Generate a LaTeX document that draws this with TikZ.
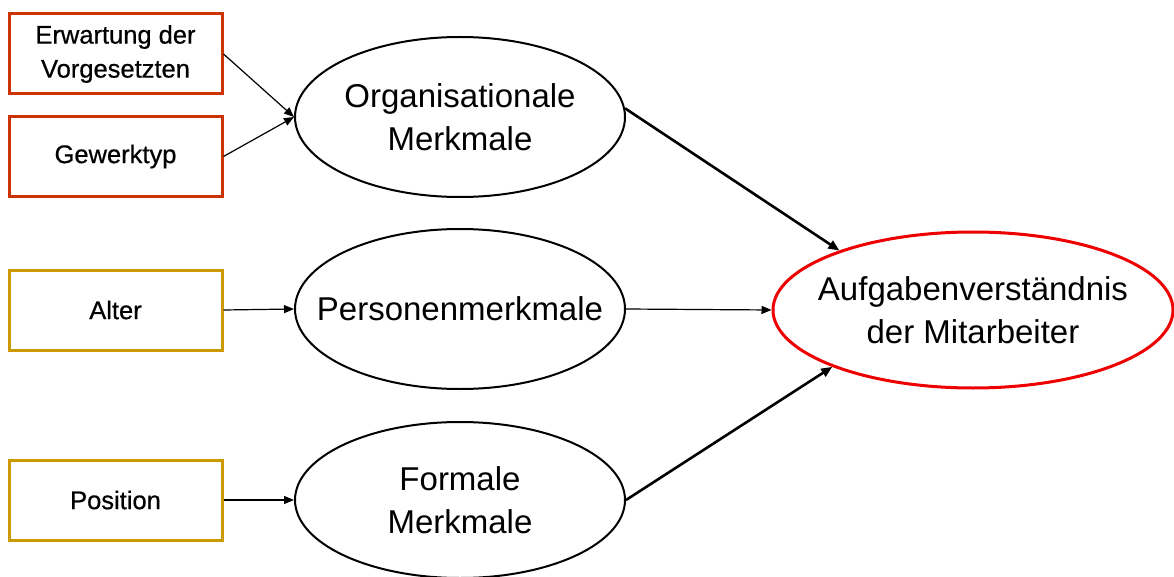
\documentclass[tikz,border=0pt]{standalone}
\usepackage{fontspec}
\setmainfont{Liberation Sans}
\usetikzlibrary{shapes.geometric,arrows.meta}

\definecolor{orgframe}{RGB}{204,51,0}
\definecolor{goldframe}{RGB}{204,153,0}
\definecolor{goalred}{RGB}{238,0,0}

\newcommand{\boxfont}{\fontsize{25.5}{34}\selectfont\addfontfeature{FakeBold=0.6}}
\newcommand{\ovalfont}{\fontsize{33}{43}\selectfont}

\begin{document}
\begin{tikzpicture}[x=1pt,y=-1pt,
  factor/.style={draw,line width=3pt,minimum width=213pt,minimum height=80pt,
    inner sep=0pt,align=center,font=\boxfont},
  construct/.style={ellipse,draw,line width=2pt,minimum width=330pt,minimum height=160pt,
    inner sep=0pt},
  caption/.style={label={[align=center,font=\ovalfont]center:#1}},
  goal/.style={construct,draw=goalred,line width=3pt,minimum width=400pt,minimum height=156pt},
  thin link/.style={line width=1.2pt,-{Triangle[length=10pt,width=8pt]}},
  thick link/.style={line width=2.6pt,-{Triangle[length=11pt,width=9pt]}}
]
\useasboundingbox (0,0) rectangle (1174,577);

% influencing factors
\node[factor,draw=orgframe]   (erw)  at (115.5,54)  {Erwartung der\\Vorgesetzten};
\node[factor,draw=orgframe]   (gew)  at (115.5,156.5) {\raisebox{-4pt}{Gewerktyp}};
\node[factor,draw=goldframe]  (alt)  at (115.5,310)  {Alter};
\node[factor,draw=goldframe]  (pos)  at (115.5,500)  {Position};

% characteristic groups (text set as centred labels so the ovals keep their size)
\node[construct,caption={Organisationale\\Merkmale}] (org)  at (460,117) {};
\node[construct,caption={Personenmerkmale}]          (pers) at (460,309) {};
\node[construct,minimum height=156pt,caption={Formale\\Merkmale}] (form) at (460,500) {};

% outcome
\node[goal,caption={Aufgabenverständnis\\der Mitarbeiter}] (aufg) at (973,310) {};

% connectors
\draw[thin link] (erw.east) -- (org.west);
\draw[thin link] (gew.east) -- (org.west);
\draw[thin link] (alt.east) -- (pers.west);
\draw[thin link] (pos.east) -- (form.west);

\draw[thick link] (org.3) -- (aufg.156);
\draw[thin link]  (pers.east) -- (aufg.west);
\draw[thick link] (form.east) -- (aufg.202);
\end{tikzpicture}
\end{document}
